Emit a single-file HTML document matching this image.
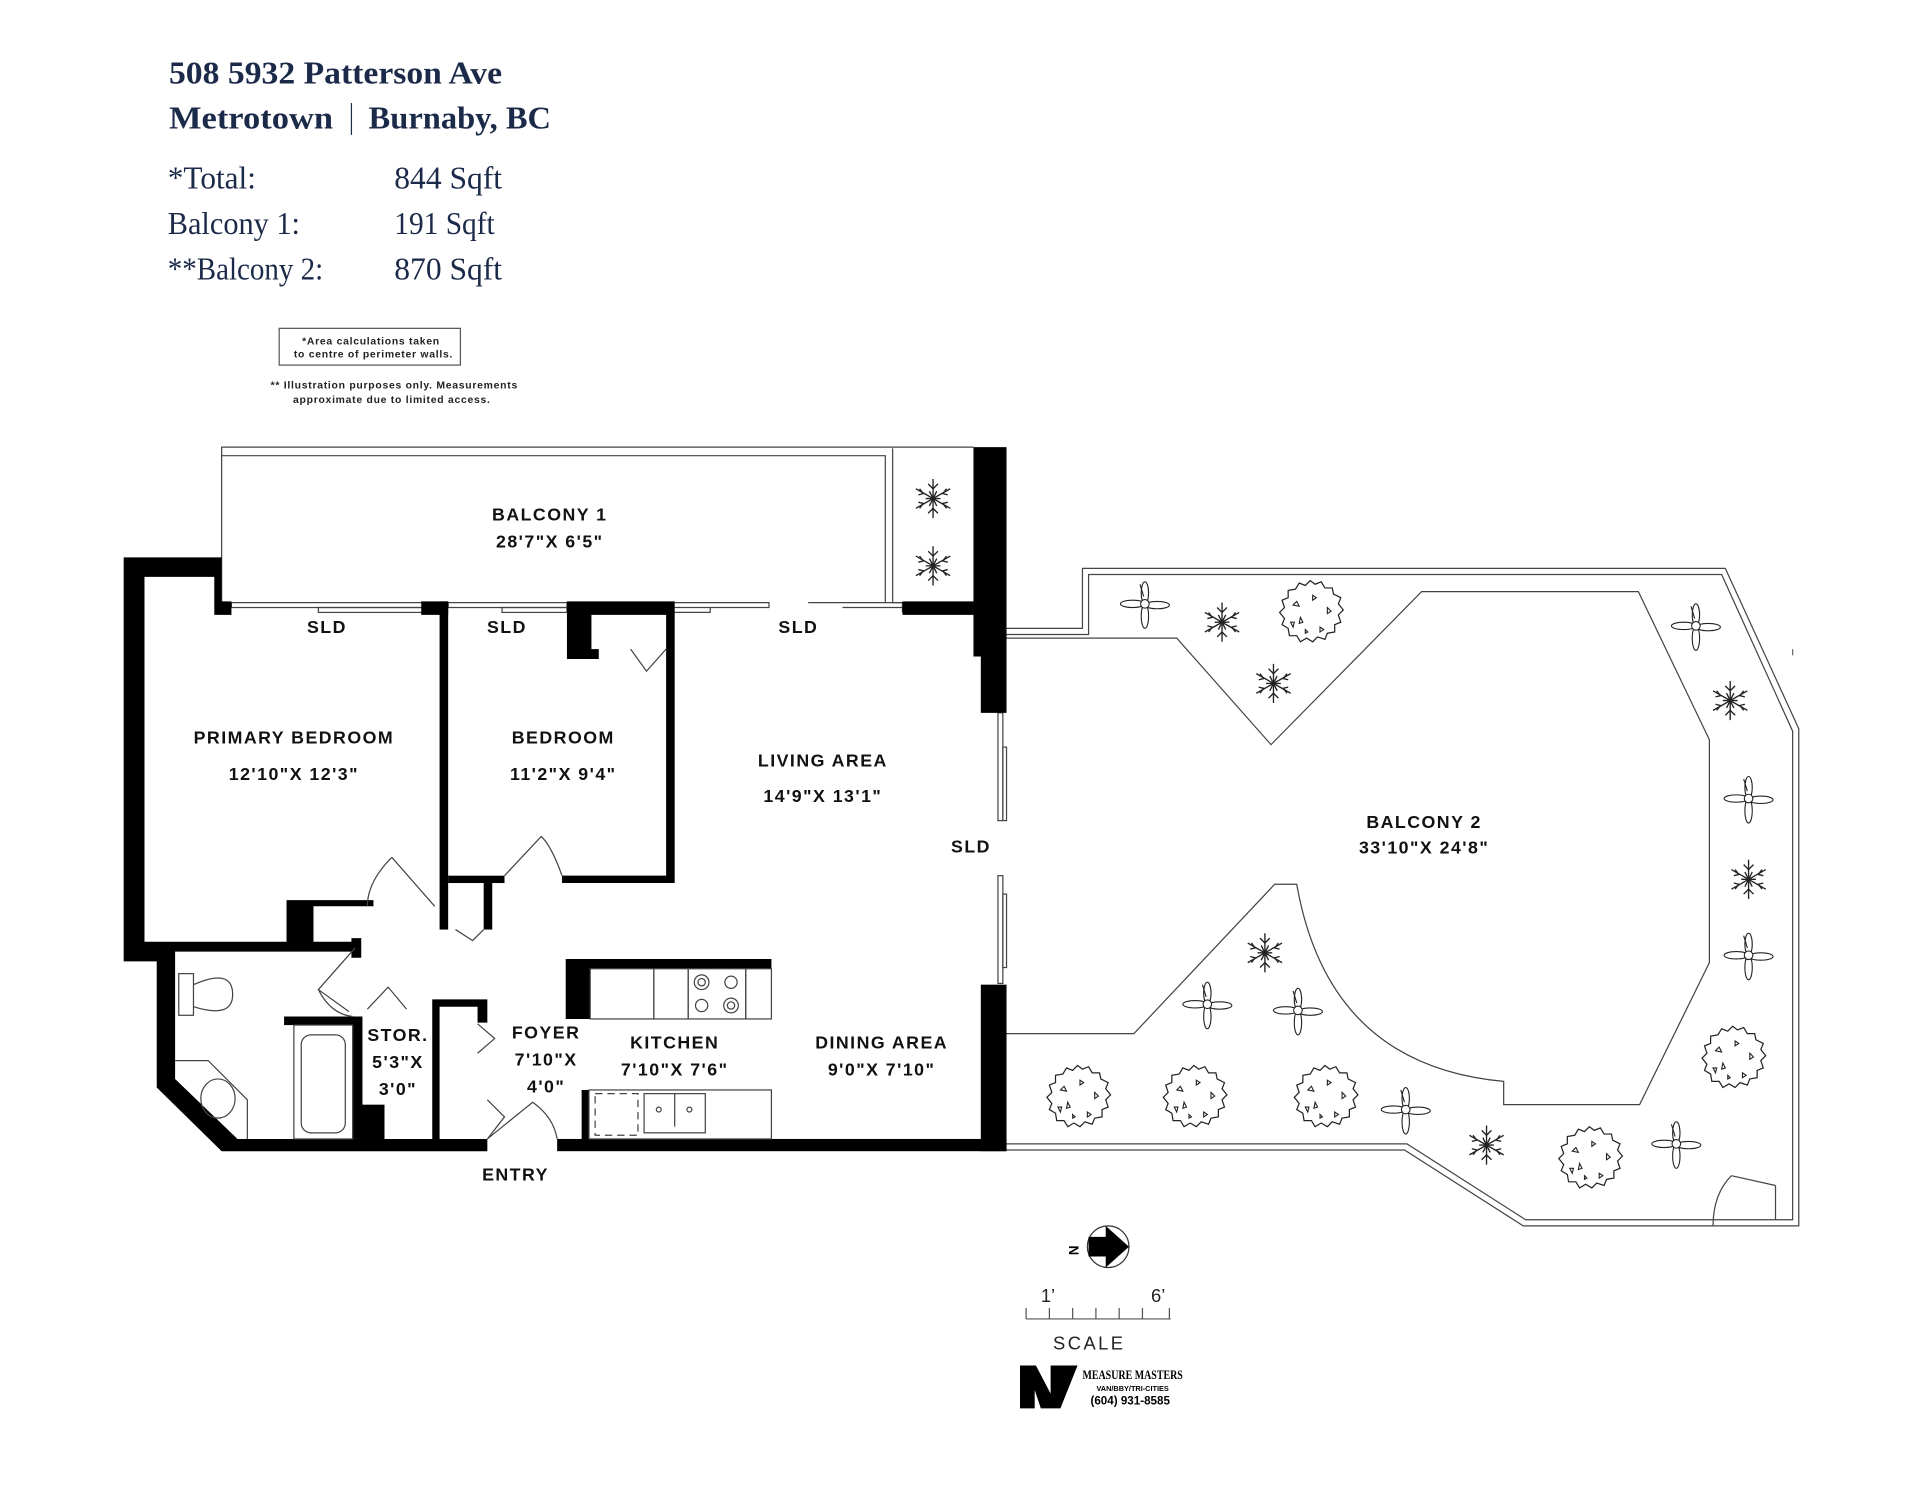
<!DOCTYPE html>
<html><head><meta charset="utf-8"><style>
html,body{margin:0;padding:0;background:#fff;}
svg{display:block;}
.t{font-family:"Liberation Serif",serif;fill:#1c2a4a;}
.l{font-family:"Liberation Sans",sans-serif;font-size:14.5px;font-weight:bold;fill:#111;letter-spacing:1.2px;text-anchor:middle;}
.th{fill:none;stroke:#444;stroke-width:1;}
</style></head><body>
<svg width="1920" height="1493" viewBox="0 0 1568 1219" xmlns="http://www.w3.org/2000/svg">
<defs>
<symbol id="fl" viewBox="-20 -20 40 40" overflow="visible">
<g fill="#fff" stroke="#222" stroke-width="0.9">
<ellipse cx="0" cy="-9" rx="3" ry="9"/><ellipse cx="0" cy="10" rx="3" ry="10" /><ellipse cx="-10" cy="0" rx="10" ry="3"/><ellipse cx="10" cy="1" rx="10" ry="3"/><circle r="3.5"/><line x1="-4" y1="-16" x2="-1" y2="-6"/></g>
</symbol>
<symbol id="sn" viewBox="-20 -20 40 40" overflow="visible">
<g stroke="#222" stroke-width="1.1" fill="none">
<path d="M0 -16 L0 16 M-14 -8 L14 8 M-14 8 L14 -8"/>
<path d="M-4 -12 L0 -8 L4 -12 M-4 12 L0 8 L4 12 M-12 -3 L-8 -4 L-11 -8 M12 3 L8 4 L11 8 M-12 3 L-8 4 L-11 8 M12 -3 L8 -4 L11 -8"/>
<path d="M-3 -6 L3 6 M3 -6 L-3 6 M-6 0 L6 0"/>
</g></symbol>
<symbol id="bu" viewBox="-30 -30 60 60" overflow="visible">
<path d="M0 -26 l4 3 l5 -2 l3 5 l6 0 l1 5 l6 3 l-2 5 l4 5 l-4 4 l2 6 l-5 2 l0 6 l-6 1 l-2 5 l-6 -2 l-4 4 l-5 -3 l-5 3 l-3 -5 l-6 0 l-1 -6 l-5 -3 l2 -5 l-4 -5 l4 -4 l-2 -6 l5 -2 l0 -6 l6 -1 l3 -5 l5 2z" fill="#fff" stroke="#222" stroke-width="1"/>
<path d="M-14 -6 l3 -3 l2 4z M-8 4 l2 4 l-3 1z M-16 8 l3 0 l-1 4z M8 12 l3 2 l-3 2z M14 -4 l3 3 l-3 2z M2 -14 l3 2 l-3 2z M-4 14 l2 2 l-2 1z" fill="none" stroke="#222" stroke-width="0.9"/>
</symbol>
</defs>

<!-- Header -->
<text class="t" x="138" y="68" font-size="26" font-weight="bold" textLength="272" lengthAdjust="spacingAndGlyphs">508 5932 Patterson Ave</text>
<text class="t" x="138" y="105" font-size="26" font-weight="bold" textLength="134" lengthAdjust="spacingAndGlyphs">Metrotown</text>
<line x1="287" y1="84" x2="287" y2="110" stroke="#1c2a4a" stroke-width="1"/>
<text class="t" x="301" y="105" font-size="26" font-weight="bold" textLength="149" lengthAdjust="spacingAndGlyphs">Burnaby, BC</text>
<text class="t" x="137" y="154" font-size="26" textLength="72" lengthAdjust="spacingAndGlyphs">*Total:</text>
<text class="t" x="322" y="154" font-size="26" textLength="88" lengthAdjust="spacingAndGlyphs">844 Sqft</text>
<text class="t" x="137" y="191" font-size="26" textLength="108" lengthAdjust="spacingAndGlyphs">Balcony 1:</text>
<text class="t" x="322" y="191" font-size="26" textLength="82" lengthAdjust="spacingAndGlyphs">191 Sqft</text>
<text class="t" x="137" y="228" font-size="26" textLength="127" lengthAdjust="spacingAndGlyphs">**Balcony 2:</text>
<text class="t" x="322" y="228" font-size="26" textLength="88" lengthAdjust="spacingAndGlyphs">870 Sqft</text>

<rect x="228" y="268" width="148" height="30" fill="none" stroke="#555" stroke-width="1"/>
<g font-family="Liberation Sans,sans-serif" font-size="8.5" font-weight="bold" fill="#222" text-anchor="middle" letter-spacing="0.6">
<text x="303" y="281">*Area calculations taken</text>
<text x="305" y="292">to centre of perimeter walls.</text>
<text x="322" y="317">** Illustration purposes only. Measurements</text>
<text x="320" y="329">approximate due to limited access.</text>
</g>

<!-- Balcony 1 -->
<g class="th">
<path d="M181 491 V365 H795"/>
<path d="M181 372 H723 V492"/>
<path d="M729 366 V492 H737"/>
</g>
<use href="#sn" x="742" y="387" width="40" height="40"/>
<use href="#sn" x="742" y="442" width="40" height="40"/>

<!-- Balcony 2 outline -->
<g class="th">
<path d="M822 513 H884 V464 H1409 L1469 595 V1001 H1244 L1147 939 H822"/>
<path d="M822 518 H889 V469 H1406 L1464 597 V996 H1246 L1149 934 H822"/>
<path d="M822 521 H961 L1038 608 L1161 483 H1338 L1396 604 V786 L1339 902 H1228 V883 Q1085 870 1059 722 H1041 L926 844 H822"/>
<path d="M1450 996 V968 M1450 968 L1414 960 M1399 1001 Q1399 975 1414 960"/>
</g>
<line x1="1464" y1="530" x2="1464" y2="535" stroke="#666"/>
<!-- plants -->
<g>
<use href="#fl" x="915" y="473" width="40" height="40"/>
<use href="#fl" x="1365" y="491" width="40" height="40"/>
<use href="#fl" x="1408" y="632" width="40" height="40"/>
<use href="#fl" x="1408" y="760" width="40" height="40"/>
<use href="#fl" x="966" y="800" width="40" height="40"/>
<use href="#fl" x="1040" y="805" width="40" height="40"/>
<use href="#fl" x="1128" y="886" width="40" height="40"/>
<use href="#fl" x="1349" y="914" width="40" height="40"/>
<use href="#sn" x="978" y="488" width="40" height="40"/>
<use href="#sn" x="1020" y="538" width="40" height="40"/>
<use href="#sn" x="1393" y="552" width="40" height="40"/>
<use href="#sn" x="1408" y="698" width="40" height="40"/>
<use href="#sn" x="1013" y="758" width="40" height="40"/>
<use href="#sn" x="1194" y="915" width="40" height="40"/>
<use href="#bu" x="1040" y="470" width="60" height="60"/>
<use href="#bu" x="850" y="866" width="60" height="60"/>
<use href="#bu" x="945" y="866" width="60" height="60"/>
<use href="#bu" x="1052" y="866" width="60" height="60"/>
<use href="#bu" x="1385" y="834" width="60" height="60"/>
<use href="#bu" x="1268" y="916" width="60" height="60"/>
</g>

<!-- SLD thin door lines -->
<g class="th">
<rect x="189" y="492" width="156" height="4"/><rect x="260" y="496" width="85" height="4"/>
<rect x="366" y="492" width="97" height="4"/><rect x="410" y="496" width="53" height="4"/>
<path d="M551 492 H628 V496 H551 M551 500 H580 V496"/>
<path d="M660 492 H737 V500 M688 496 H737"/>
<rect x="815" y="582" width="4" height="88"/><rect x="819" y="610" width="3" height="60"/>
<rect x="815" y="715" width="4" height="88"/><rect x="819" y="730" width="3" height="60"/>
</g>

<!-- Walls -->
<g fill="#000">
<path d="M101 455 H181 V491 H189 V502 H175 V471 H118 V769 H234 V735 H305 V740 H256 V769 H287 V766 H295 V782 H287 V777 H143 V881 L194 930 H398 V940 H181 L128 888 V785 H101 Z"/>
<rect x="344" y="491" width="22" height="11"/>
<rect x="359" y="491" width="7" height="230"/>
<path d="M463 491 H551 V721 H459 V715 H544 V502 H483 V530 H489 V538 H463 Z"/>
<rect x="366" y="715" width="46" height="6"/>
<rect x="359" y="721" width="7" height="38"/>
<rect x="395" y="721" width="7" height="38"/>
<rect x="737" y="491" width="58" height="11"/>
<path d="M795 365 H822 V582 H801 V536 H795 Z"/>
<rect x="801" y="804" width="21" height="136"/>
<rect x="455" y="930" width="367" height="10"/>
<rect x="232" y="830" width="63" height="7"/>
<rect x="288" y="830" width="8" height="100"/>
<rect x="295" y="902" width="19" height="29"/>
<path d="M353 816 H398 V835 H390 V822 H359 V931 H353 Z"/>
<path d="M462 783 H630 V791 H482 V832 H462 Z"/>
<rect x="475" y="890" width="6" height="41"/>
</g>

<!-- fixtures -->
<g class="th">
<rect x="482" y="791" width="52" height="41"/><rect x="534" y="791" width="28" height="41"/>
<rect x="562" y="791" width="47" height="41"/><rect x="609" y="791" width="21" height="41"/>
<circle cx="573" cy="802" r="6"/><circle cx="573" cy="802" r="3"/><circle cx="597" cy="802" r="5"/>
<circle cx="573" cy="821" r="5"/><circle cx="597" cy="821" r="6"/><circle cx="597" cy="821" r="3"/>
<rect x="481" y="890" width="149" height="40"/>
<rect x="486" y="893" width="35" height="34" stroke-dasharray="6 4"/>
<rect x="526" y="893" width="50" height="32"/><line x1="551" y1="893" x2="551" y2="920"/>
<circle cx="538" cy="906" r="2"/><circle cx="563" cy="906" r="2"/>
<rect x="146" y="795" width="12" height="34"/>
<path d="M158 804 Q190 790 190 812 Q190 832 158 822"/>
<path d="M143 866 H170 L202 898 V930"/>
<ellipse cx="178" cy="897" rx="14" ry="16"/>
<rect x="240" y="837" width="48" height="93"/>
<rect x="246" y="845" width="36" height="80" rx="8"/>
<path d="M459 715 Q450 690 442 683 L412 715"/>
<path d="M320 700 L355 740 M320 700 Q300 720 300 740"/>
<path d="M290 774 L260 808 L285 826 M260 808 Q270 828 288 830"/>
<path d="M300 824 L317 806 L332 824"/>
<path d="M372 759 L386 768 L395 759"/>
<path d="M515 530 L528 548 L544 530"/>
<path d="M390 836 L404 848 L390 860"/>
<path d="M398 898 L412 912 L398 930 L435 900 Q452 912 455 930"/>
</g>

<!-- Labels -->
<g class="l">
<text x="449" y="425">BALCONY 1</text>
<text x="449" y="447">28'7"X 6'5"</text>
<text x="267" y="517">SLD</text>
<text x="414" y="517">SLD</text>
<text x="652" y="517">SLD</text>
<text x="793" y="696">SLD</text>
<text x="240" y="607">PRIMARY BEDROOM</text>
<text x="240" y="637">12'10"X 12'3"</text>
<text x="460" y="607">BEDROOM</text>
<text x="460" y="637">11'2"X 9'4"</text>
<text x="672" y="626">LIVING AREA</text>
<text x="672" y="655">14'9"X 13'1"</text>
<text x="1163" y="676">BALCONY 2</text>
<text x="1163" y="697">33'10"X 24'8"</text>
<text x="325" y="850">STOR.</text>
<text x="325" y="872">5'3"X</text>
<text x="325" y="894">3'0"</text>
<text x="446" y="848">FOYER</text>
<text x="446" y="870">7'10"X</text>
<text x="446" y="892">4'0"</text>
<text x="551" y="856">KITCHEN</text>
<text x="551" y="878">7'10"X 7'6"</text>
<text x="720" y="856">DINING AREA</text>
<text x="720" y="878">9'0"X 7'10"</text>
<text x="421" y="964">ENTRY</text>
</g>

<!-- Compass & scale -->
<text x="874" y="1024" font-family="Liberation Sans,sans-serif" font-size="11" font-weight="bold" transform="rotate(90 877 1020)">N</text>
<circle cx="905" cy="1018" r="17" fill="#fff" stroke="#333"/>
<path d="M889 1010 H903 V1001 L922 1018 L903 1035 V1026 H889 Z" fill="#000"/>
<g stroke="#555" fill="none"><path d="M838 1077 H956 M838 1068 V1077 M857 1068 V1077 M876 1068 V1077 M895 1068 V1077 M914 1068 V1077 M933 1068 V1077 M955 1068 V1077"/></g>
<g font-family="Liberation Sans,sans-serif" font-size="15" fill="#222">
<text x="850" y="1063">1’</text><text x="940" y="1063">6’</text>
<text x="860" y="1102" letter-spacing="2">SCALE</text>
</g>
<path d="M833 1115 H846 L858 1138 V1115 H880 L866 1150 H850 L845 1135 V1150 H833 Z" fill="#000"/>
<g font-family="Liberation Serif,serif" font-weight="bold" fill="#000" text-anchor="middle">
<text x="925" y="1126" font-size="10.5" textLength="82" lengthAdjust="spacingAndGlyphs">MEASURE MASTERS</text>
<text x="925" y="1136" font-size="6" font-family="Liberation Sans,sans-serif">VAN/BBY/TRI-CITIES</text>
<text x="923" y="1147" font-size="9.5" font-family="Liberation Sans,sans-serif">(604) 931-8585</text>
</g>
</svg>
</body></html>
